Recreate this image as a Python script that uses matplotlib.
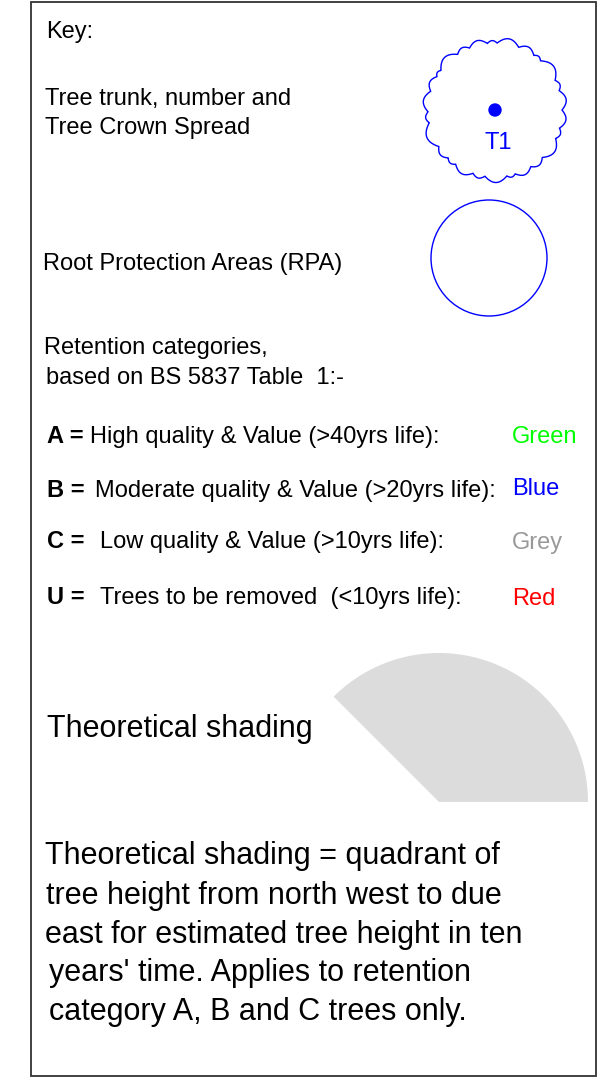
import numpy as np
import matplotlib
matplotlib.use('Agg')
import matplotlib.pyplot as plt
from matplotlib.patches import Circle, Polygon, Rectangle

plt.rcParams['font.family'] = ['Liberation Sans', 'DejaVu Sans']

# key content
categories = ['A =', 'B =', 'C =', 'U =']
descriptions = ['High quality & Value (>40yrs life):',
                'Moderate quality & Value (>20yrs life):',
                'Low quality & Value (>10yrs life):',
                'Trees to be removed  (<10yrs life):']
colour_names = ['Green', 'Blue', 'Grey', 'Red']
colour_values = ['#00ff00', '#0000ff', '#999999', '#ff0000']
cat_rows = [443, 497, 548, 604]
name_rows = [443, 495, 549, 605]
desc_x = [90, 95, 100, 100]

note_lines = ["Theoretical shading = quadrant of",
              "tree height from north west to due",
              "east for estimated tree height in ten",
              "years' time. Applies to retention",
              "category A, B and C trees only."]
note_x = [45, 46, 45, 49, 49]
note_y = [864, 904, 943, 981, 1020]

# scallop widths (deg) for the crown outline
bump_widths = [16, 9, 20, 7, 14, 18, 8, 15, 11, 19, 6, 13, 17, 9,
               21, 12, 8, 16, 10, 18, 7, 14, 12, 19, 9, 15]

fig = plt.figure(figsize=(6.08, 10.81), dpi=100)
ax = fig.add_axes([0, 0, 1, 1])
ax.set_xlim(0, 608)
ax.set_ylim(1081, 0)
ax.axis('off')

# frame
ax.add_patch(Rectangle((31, 2), 565, 1074, fill=False, ec='#333333', lw=1.3))

fs = 17
ax.text(46, 38, 'Key:', fontsize=fs)
ax.text(45, 105, 'Tree trunk, number and', fontsize=fs)
ax.text(45, 134, 'Tree Crown Spread', fontsize=fs)
ax.text(43, 270, 'Root Protection Areas (RPA)', fontsize=fs)
ax.text(44, 354, 'Retention categories,', fontsize=fs)
ax.text(46, 384, 'based on BS 5837 Table  1:-', fontsize=fs)

for i in range(len(categories)):
    ax.text(47, cat_rows[i], categories[i], fontsize=fs, fontweight='bold')
    ax.text(desc_x[i], cat_rows[i], descriptions[i], fontsize=fs)
    ax.text(512, name_rows[i], colour_names[i], fontsize=fs, color=colour_values[i])

# crown spread cloud
cx, cy, r0 = 495, 110, 67
ang = np.radians(np.concatenate([[0], np.cumsum(bump_widths)]) * 360.0 / sum(bump_widths))
pts = []
for a1, a2 in zip(ang[:-1], ang[1:]):
    t = np.linspace(0, 1, 20)
    aa = a1 + (a2 - a1) * t
    chord = r0 * (a2 - a1)
    rr = r0 + 0.25 * chord * np.sin(np.pi * t)
    pts.append(np.column_stack([cx + rr * np.cos(aa), cy - rr * np.sin(aa)]))
pts = np.vstack(pts)
ax.add_patch(Polygon(pts, closed=True, fill=False, ec='#0000ff', lw=1.0))
ax.add_patch(Circle((cx, cy), 6, color='#0000ff'))
ax.text(cx + 3, 149, 'T1', fontsize=fs, color='#0000ff', ha='center')

# root protection area
ax.add_patch(Circle((489, 258), 58, fill=False, ec='#0000ff', lw=1.0))

# theoretical shading quadrant (NW to due east)
wx, wy, wr = 439, 802, 149
th = np.radians(np.linspace(0, 135, 100))
wedge = np.vstack([[wx, wy], np.column_stack([wx + wr * np.cos(th), wy - wr * np.sin(th)])])
ax.add_patch(Polygon(wedge, closed=True, fc='#dcdcdc', ec='none'))
ax.text(47, 737, 'Theoretical shading', fontsize=22)

for s, x, y in zip(note_lines, note_x, note_y):
    ax.text(x, y, s, fontsize=22)

fig.savefig('out.png', dpi=100)
